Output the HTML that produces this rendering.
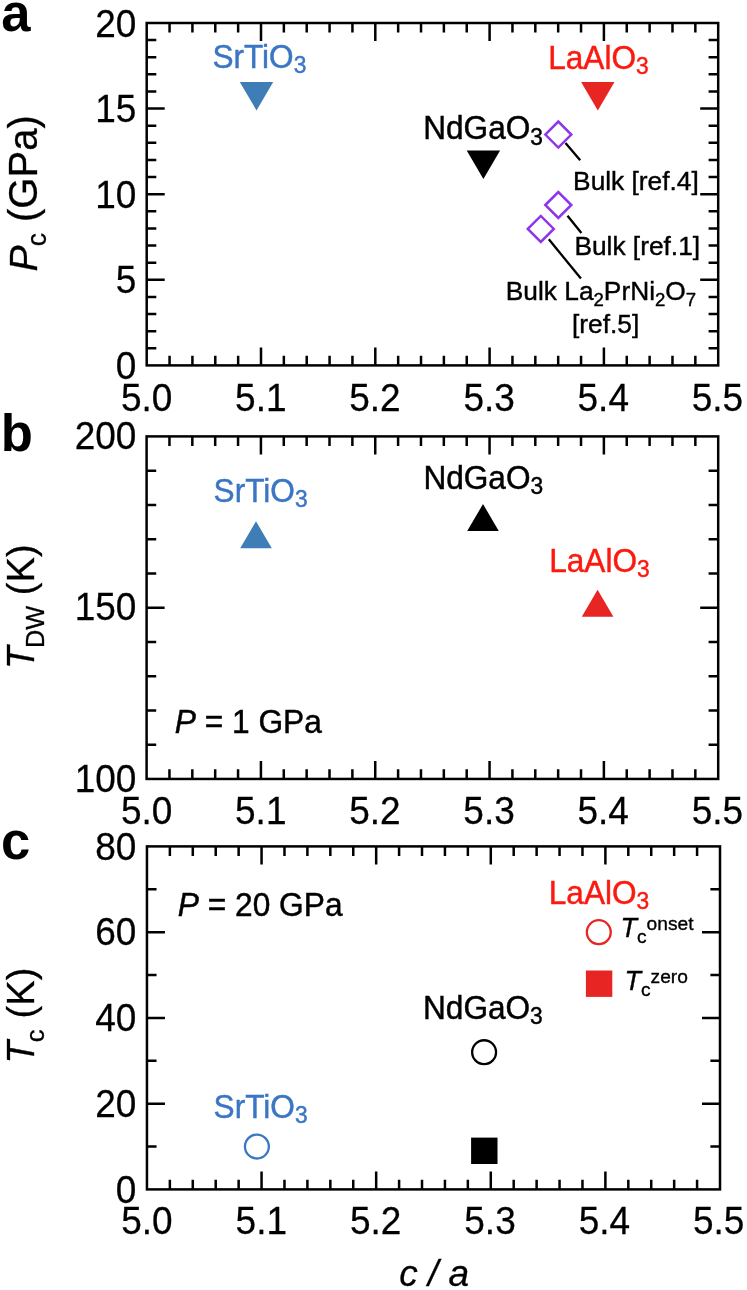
<!DOCTYPE html>
<html lang="en"><head><meta charset="utf-8"><title>Figure</title>
<style>
html,body{margin:0;padding:0;background:#fff;}
body{width:747px;height:1290px;overflow:hidden;}
svg{display:block;}
svg text{font-family:"Liberation Sans", Arial, Helvetica, sans-serif;fill:#000;}
</style></head><body>
<svg width="747" height="1290" viewBox="0 0 747 1290">
<rect width="747" height="1290" fill="#fff"/>
<rect x="146.70" y="23.00" width="571.50" height="342.40" fill="none" stroke="#000" stroke-width="2.5"/>
<path d="M169.56 365.40v-9.6M169.56 23.00v9.6M192.42 365.40v-9.6M192.42 23.00v9.6M215.28 365.40v-9.6M215.28 23.00v9.6M238.14 365.40v-9.6M238.14 23.00v9.6M261.00 365.40v-18.0M261.00 23.00v18.0M283.86 365.40v-9.6M283.86 23.00v9.6M306.72 365.40v-9.6M306.72 23.00v9.6M329.58 365.40v-9.6M329.58 23.00v9.6M352.44 365.40v-9.6M352.44 23.00v9.6M375.30 365.40v-18.0M375.30 23.00v18.0M398.16 365.40v-9.6M398.16 23.00v9.6M421.02 365.40v-9.6M421.02 23.00v9.6M443.88 365.40v-9.6M443.88 23.00v9.6M466.74 365.40v-9.6M466.74 23.00v9.6M489.60 365.40v-18.0M489.60 23.00v18.0M512.46 365.40v-9.6M512.46 23.00v9.6M535.32 365.40v-9.6M535.32 23.00v9.6M558.18 365.40v-9.6M558.18 23.00v9.6M581.04 365.40v-9.6M581.04 23.00v9.6M603.90 365.40v-18.0M603.90 23.00v18.0M626.76 365.40v-9.6M626.76 23.00v9.6M649.62 365.40v-9.6M649.62 23.00v9.6M672.48 365.40v-9.6M672.48 23.00v9.6M695.34 365.40v-9.6M695.34 23.00v9.6M146.70 348.28h9.6M718.20 348.28h-9.6M146.70 331.16h9.6M718.20 331.16h-9.6M146.70 314.04h9.6M718.20 314.04h-9.6M146.70 296.92h9.6M718.20 296.92h-9.6M146.70 279.80h18.0M718.20 279.80h-18.0M146.70 262.68h9.6M718.20 262.68h-9.6M146.70 245.56h9.6M718.20 245.56h-9.6M146.70 228.44h9.6M718.20 228.44h-9.6M146.70 211.32h9.6M718.20 211.32h-9.6M146.70 194.20h18.0M718.20 194.20h-18.0M146.70 177.08h9.6M718.20 177.08h-9.6M146.70 159.96h9.6M718.20 159.96h-9.6M146.70 142.84h9.6M718.20 142.84h-9.6M146.70 125.72h9.6M718.20 125.72h-9.6M146.70 108.60h18.0M718.20 108.60h-18.0M146.70 91.48h9.6M718.20 91.48h-9.6M146.70 74.36h9.6M718.20 74.36h-9.6M146.70 57.24h9.6M718.20 57.24h-9.6M146.70 40.12h9.6M718.20 40.12h-9.6" stroke="#000" stroke-width="2.5" fill="none"/>
<text transform="translate(136.4 378.90) scale(1 1.04)" text-anchor="end" font-size="37" stroke="#000" stroke-width="0.25">0</text>
<text transform="translate(136.4 293.30) scale(1 1.04)" text-anchor="end" font-size="37" stroke="#000" stroke-width="0.25">5</text>
<text transform="translate(136.4 207.70) scale(1 1.04)" text-anchor="end" font-size="37" stroke="#000" stroke-width="0.25">10</text>
<text transform="translate(136.4 122.10) scale(1 1.04)" text-anchor="end" font-size="37" stroke="#000" stroke-width="0.25">15</text>
<text transform="translate(136.4 36.50) scale(1 1.04)" text-anchor="end" font-size="37" stroke="#000" stroke-width="0.25">20</text>
<text transform="translate(146.70 410.60) scale(1 1.04)" text-anchor="middle" font-size="37" stroke="#000" stroke-width="0.25">5.0</text>
<text transform="translate(260.84 410.60) scale(1 1.04)" text-anchor="middle" font-size="37" stroke="#000" stroke-width="0.25">5.1</text>
<text transform="translate(374.98 410.60) scale(1 1.04)" text-anchor="middle" font-size="37" stroke="#000" stroke-width="0.25">5.2</text>
<text transform="translate(489.12 410.60) scale(1 1.04)" text-anchor="middle" font-size="37" stroke="#000" stroke-width="0.25">5.3</text>
<text transform="translate(603.26 410.60) scale(1 1.04)" text-anchor="middle" font-size="37" stroke="#000" stroke-width="0.25">5.4</text>
<text transform="translate(717.40 410.60) scale(1 1.04)" text-anchor="middle" font-size="37" stroke="#000" stroke-width="0.25">5.5</text>
<path d="M239.80 82.01h33.4L256.50 110.41z" fill="#3f7db6"/>
<path d="M581.10 82.01h33.4L597.80 110.41z" fill="#e72623"/>
<path d="M466.70 150.49h33.4L483.40 178.89z" fill="#000"/>
<path d="M565.5 142.9L580.2 160.2" stroke="#000" stroke-width="2.3"/>
<path d="M567.5 215.7L581.4 233" stroke="#000" stroke-width="2.3"/>
<path d="M548.8 239.3L580.9 278.5" stroke="#000" stroke-width="2.3"/>
<path d="M545.30 134.60L558.30 121.60L571.30 134.60L558.30 147.60z" fill="#fff" stroke="#8e34ec" stroke-width="2.5"/>
<path d="M545.30 205.00L558.30 192.00L571.30 205.00L558.30 218.00z" fill="#fff" stroke="#8e34ec" stroke-width="2.5"/>
<path d="M527.80 228.90L540.80 215.90L553.80 228.90L540.80 241.90z" fill="#fff" stroke="#8e34ec" stroke-width="2.5"/>
<text transform="translate(212.4 67.8) scale(1 1.03)" font-size="31.6" style="fill:#3b76c4" stroke="#3b76c4" stroke-width="0.45" text-anchor="start">SrTiO<tspan font-size="22.8" dy="5">3</tspan></text>
<text transform="translate(548.2 68.6) scale(1 1.03)" font-size="31.6" style="fill:#fb1a10" stroke="#fb1a10" stroke-width="0.45" text-anchor="start">LaAlO<tspan font-size="22.8" dy="5">3</tspan></text>
<text transform="translate(423.2 139.4) scale(1 1.03)" font-size="31.6" style="fill:#000" stroke="#000" stroke-width="0.45" text-anchor="start">NdGaO<tspan font-size="22.8" dy="5">3</tspan></text>
<text x="573.1" y="189.7" font-size="26.3" stroke="#000" stroke-width="0.4">Bulk [ref.4]</text>
<text x="574.4" y="254.9" font-size="26.3" stroke="#000" stroke-width="0.4">Bulk [ref.1]</text>
<text x="505.8" y="300.3" font-size="26.3" stroke="#000" stroke-width="0.4">Bulk La<tspan font-size="18.6" dy="6">2</tspan><tspan dy="-6">PrNi</tspan><tspan font-size="18.6" dy="6">2</tspan><tspan dy="-6">O</tspan><tspan font-size="18.6" dy="6">7</tspan></text>
<text x="605.6" y="333.4" font-size="26.3" stroke="#000" stroke-width="0.4" text-anchor="middle">[ref.5]</text>
<rect x="146.60" y="436.40" width="571.60" height="342.55" fill="none" stroke="#000" stroke-width="2.5"/>
<path d="M169.46 778.95v-9.6M169.46 436.40v9.6M192.33 778.95v-9.6M192.33 436.40v9.6M215.19 778.95v-9.6M215.19 436.40v9.6M238.06 778.95v-9.6M238.06 436.40v9.6M260.92 778.95v-18.0M260.92 436.40v18.0M283.78 778.95v-9.6M283.78 436.40v9.6M306.65 778.95v-9.6M306.65 436.40v9.6M329.51 778.95v-9.6M329.51 436.40v9.6M352.38 778.95v-9.6M352.38 436.40v9.6M375.24 778.95v-18.0M375.24 436.40v18.0M398.10 778.95v-9.6M398.10 436.40v9.6M420.97 778.95v-9.6M420.97 436.40v9.6M443.83 778.95v-9.6M443.83 436.40v9.6M466.70 778.95v-9.6M466.70 436.40v9.6M489.56 778.95v-18.0M489.56 436.40v18.0M512.42 778.95v-9.6M512.42 436.40v9.6M535.29 778.95v-9.6M535.29 436.40v9.6M558.15 778.95v-9.6M558.15 436.40v9.6M581.02 778.95v-9.6M581.02 436.40v9.6M603.88 778.95v-18.0M603.88 436.40v18.0M626.74 778.95v-9.6M626.74 436.40v9.6M649.61 778.95v-9.6M649.61 436.40v9.6M672.47 778.95v-9.6M672.47 436.40v9.6M695.34 778.95v-9.6M695.34 436.40v9.6M146.60 744.70h9.6M718.20 744.70h-9.6M146.60 710.44h9.6M718.20 710.44h-9.6M146.60 676.19h9.6M718.20 676.19h-9.6M146.60 641.93h9.6M718.20 641.93h-9.6M146.60 607.67h18.0M718.20 607.67h-18.0M146.60 573.42h9.6M718.20 573.42h-9.6M146.60 539.16h9.6M718.20 539.16h-9.6M146.60 504.91h9.6M718.20 504.91h-9.6M146.60 470.65h9.6M718.20 470.65h-9.6" stroke="#000" stroke-width="2.5" fill="none"/>
<text transform="translate(136.4 791.65) scale(1 1.04)" text-anchor="end" font-size="37" stroke="#000" stroke-width="0.25">100</text>
<text transform="translate(136.4 620.38) scale(1 1.04)" text-anchor="end" font-size="37" stroke="#000" stroke-width="0.25">150</text>
<text transform="translate(136.4 449.10) scale(1 1.04)" text-anchor="end" font-size="37" stroke="#000" stroke-width="0.25">200</text>
<text transform="translate(146.60 824.05) scale(1 1.04)" text-anchor="middle" font-size="37" stroke="#000" stroke-width="0.25">5.0</text>
<text transform="translate(260.76 824.05) scale(1 1.04)" text-anchor="middle" font-size="37" stroke="#000" stroke-width="0.25">5.1</text>
<text transform="translate(374.92 824.05) scale(1 1.04)" text-anchor="middle" font-size="37" stroke="#000" stroke-width="0.25">5.2</text>
<text transform="translate(489.08 824.05) scale(1 1.04)" text-anchor="middle" font-size="37" stroke="#000" stroke-width="0.25">5.3</text>
<text transform="translate(603.24 824.05) scale(1 1.04)" text-anchor="middle" font-size="37" stroke="#000" stroke-width="0.25">5.4</text>
<text transform="translate(717.40 824.05) scale(1 1.04)" text-anchor="middle" font-size="37" stroke="#000" stroke-width="0.25">5.5</text>
<path d="M240.20 548.16h31.6L256.00 521.16z" fill="#3f7db6"/>
<path d="M467.20 531.04h31.6L483.00 504.04z" fill="#000"/>
<path d="M581.80 616.67h31.6L597.60 589.67z" fill="#e72623"/>
<text transform="translate(213.6 501.5) scale(1 1.03)" font-size="31.6" style="fill:#3b76c4" stroke="#3b76c4" stroke-width="0.45" text-anchor="start">SrTiO<tspan font-size="22.8" dy="5">3</tspan></text>
<text transform="translate(423.4 489) scale(1 1.03)" font-size="31.6" style="fill:#000" stroke="#000" stroke-width="0.45" text-anchor="start">NdGaO<tspan font-size="22.8" dy="5">3</tspan></text>
<text transform="translate(549.2 571.7) scale(1 1.03)" font-size="31.6" style="fill:#fb1a10" stroke="#fb1a10" stroke-width="0.45" text-anchor="start">LaAlO<tspan font-size="22.8" dy="5">3</tspan></text>
<text transform="translate(174.7 733) scale(1 1.035)" font-size="31.7" stroke="#000" stroke-width="0.45"><tspan font-style="italic">P</tspan> = 1 GPa</text>
<rect x="146.95" y="846.40" width="573.05" height="343.00" fill="none" stroke="#000" stroke-width="2.5"/>
<path d="M169.87 1189.40v-9.6M169.87 846.40v9.6M192.79 1189.40v-9.6M192.79 846.40v9.6M215.72 1189.40v-9.6M215.72 846.40v9.6M238.64 1189.40v-9.6M238.64 846.40v9.6M261.56 1189.40v-18.0M261.56 846.40v18.0M284.48 1189.40v-9.6M284.48 846.40v9.6M307.40 1189.40v-9.6M307.40 846.40v9.6M330.33 1189.40v-9.6M330.33 846.40v9.6M353.25 1189.40v-9.6M353.25 846.40v9.6M376.17 1189.40v-18.0M376.17 846.40v18.0M399.09 1189.40v-9.6M399.09 846.40v9.6M422.01 1189.40v-9.6M422.01 846.40v9.6M444.94 1189.40v-9.6M444.94 846.40v9.6M467.86 1189.40v-9.6M467.86 846.40v9.6M490.78 1189.40v-18.0M490.78 846.40v18.0M513.70 1189.40v-9.6M513.70 846.40v9.6M536.62 1189.40v-9.6M536.62 846.40v9.6M559.55 1189.40v-9.6M559.55 846.40v9.6M582.47 1189.40v-9.6M582.47 846.40v9.6M605.39 1189.40v-18.0M605.39 846.40v18.0M628.31 1189.40v-9.6M628.31 846.40v9.6M651.23 1189.40v-9.6M651.23 846.40v9.6M674.16 1189.40v-9.6M674.16 846.40v9.6M697.08 1189.40v-9.6M697.08 846.40v9.6M146.95 1146.53h9.6M720.00 1146.53h-9.6M146.95 1103.65h18.0M720.00 1103.65h-18.0M146.95 1060.78h9.6M720.00 1060.78h-9.6M146.95 1017.90h18.0M720.00 1017.90h-18.0M146.95 975.02h9.6M720.00 975.02h-9.6M146.95 932.15h18.0M720.00 932.15h-18.0M146.95 889.27h9.6M720.00 889.27h-9.6" stroke="#000" stroke-width="2.5" fill="none"/>
<text transform="translate(136.4 1202.50) scale(1 1.04)" text-anchor="end" font-size="37" stroke="#000" stroke-width="0.25">0</text>
<text transform="translate(136.4 1116.75) scale(1 1.04)" text-anchor="end" font-size="37" stroke="#000" stroke-width="0.25">20</text>
<text transform="translate(136.4 1031.00) scale(1 1.04)" text-anchor="end" font-size="37" stroke="#000" stroke-width="0.25">40</text>
<text transform="translate(136.4 945.25) scale(1 1.04)" text-anchor="end" font-size="37" stroke="#000" stroke-width="0.25">60</text>
<text transform="translate(136.4 859.50) scale(1 1.04)" text-anchor="end" font-size="37" stroke="#000" stroke-width="0.25">80</text>
<text transform="translate(146.95 1233.80) scale(1 1.04)" text-anchor="middle" font-size="37" stroke="#000" stroke-width="0.25">5.0</text>
<text transform="translate(261.30 1233.80) scale(1 1.04)" text-anchor="middle" font-size="37" stroke="#000" stroke-width="0.25">5.1</text>
<text transform="translate(375.65 1233.80) scale(1 1.04)" text-anchor="middle" font-size="37" stroke="#000" stroke-width="0.25">5.2</text>
<text transform="translate(490.00 1233.80) scale(1 1.04)" text-anchor="middle" font-size="37" stroke="#000" stroke-width="0.25">5.3</text>
<text transform="translate(604.35 1233.80) scale(1 1.04)" text-anchor="middle" font-size="37" stroke="#000" stroke-width="0.25">5.4</text>
<text transform="translate(718.70 1233.80) scale(1 1.04)" text-anchor="middle" font-size="37" stroke="#000" stroke-width="0.25">5.5</text>
<circle cx="256.90" cy="1146.53" r="11.95" fill="#fff" stroke="#3b76c4" stroke-width="2.3"/>
<circle cx="484.10" cy="1052.20" r="11.95" fill="#fff" stroke="#000" stroke-width="2.3"/>
<circle cx="598.80" cy="932.15" r="11.95" fill="#fff" stroke="#e72623" stroke-width="2.3"/>
<rect x="471.10" y="1137.61" width="26.4" height="26.4" fill="#000"/>
<rect x="585.90" y="970.50" width="26.4" height="26.4" fill="#e72623"/>
<text transform="translate(213.6 1117.9) scale(1 1.03)" font-size="31.6" style="fill:#3b76c4" stroke="#3b76c4" stroke-width="0.45" text-anchor="start">SrTiO<tspan font-size="22.8" dy="5">3</tspan></text>
<text transform="translate(423.0 1018.6) scale(1 1.03)" font-size="31.6" style="fill:#000" stroke="#000" stroke-width="0.45" text-anchor="start">NdGaO<tspan font-size="22.8" dy="5">3</tspan></text>
<text transform="translate(548.8 903.8) scale(1 1.03)" font-size="31.6" style="fill:#fb1a10" stroke="#fb1a10" stroke-width="0.45" text-anchor="start">LaAlO<tspan font-size="22.8" dy="5">3</tspan></text>
<text transform="translate(177.8 916.1) scale(1 1.035)" font-size="31.7" stroke="#000" stroke-width="0.45"><tspan font-style="italic">P</tspan> = 20 GPa</text>
<text x="620.5" y="936.6" font-size="27" stroke="#000" stroke-width="0.35"><tspan font-style="italic">T</tspan><tspan font-size="19.2" dy="6.2">c</tspan><tspan font-size="19.2" dy="-13">onset</tspan></text>
<text x="624.5" y="990" font-size="27" stroke="#000" stroke-width="0.35"><tspan font-style="italic">T</tspan><tspan font-size="19.2" dy="6.2">c</tspan><tspan font-size="19.2" dy="-13">zero</tspan></text>
<text x="1.2" y="30.9" font-size="52.6" font-weight="bold">a</text>
<text x="0.8" y="451.3" font-size="52.6" font-weight="bold">b</text>
<text x="0.9" y="858.5" font-size="52.6" font-weight="bold">c</text>
<text transform="translate(36.8 271.5) rotate(-90) scale(1 1.01)" font-size="40" stroke="#000" stroke-width="0.3"><tspan font-style="italic" font-size="39.3">P</tspan><tspan font-size="26.5" dy="9.2" dx="-1">c</tspan><tspan dy="-9.2"> (GPa)</tspan></text>
<text transform="translate(34.3 669) rotate(-90) scale(1 1.035)" font-size="37" stroke="#000" stroke-width="0.3"><tspan font-style="italic">T</tspan><tspan font-size="25.4" dy="9" dx="-1.7">DW</tspan><tspan dy="-9" font-size="38.2"> (K)</tspan></text>
<text transform="translate(34.3 1063.5) rotate(-90) scale(1 1.035)" font-size="37" stroke="#000" stroke-width="0.3"><tspan font-style="italic">T</tspan><tspan font-size="25.4" dy="9.1" dx="-1.3">c</tspan><tspan dy="-9.1" dx="0.5" font-size="38.2"> (K)</tspan></text>
<text x="434.2" y="1286.1" font-size="37" font-style="italic" stroke="#000" stroke-width="0.3" text-anchor="middle">c / a</text>
</svg>
</body></html>
